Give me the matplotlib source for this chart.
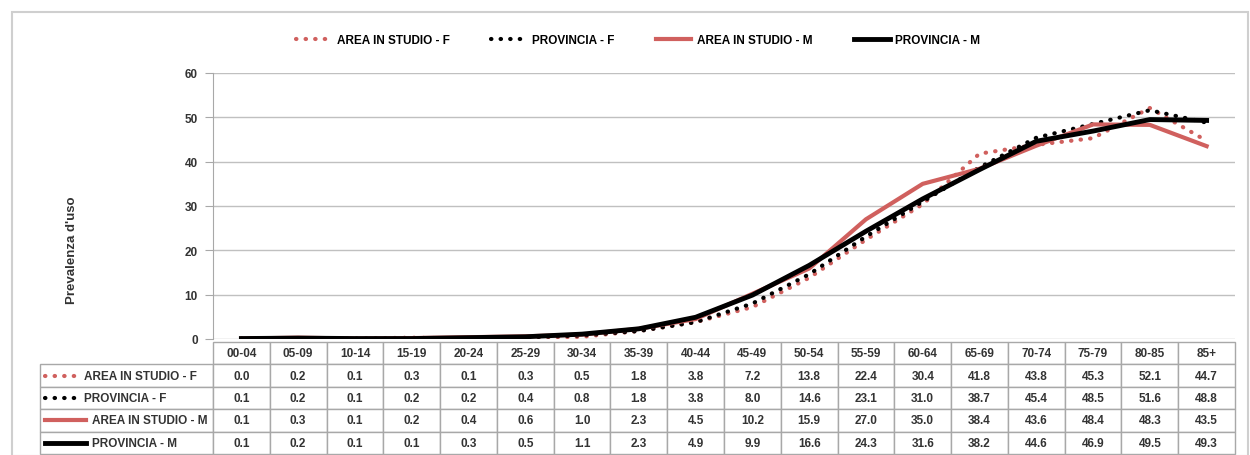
import matplotlib
matplotlib.use("Agg")
from matplotlib import pyplot as plt
from matplotlib.lines import Line2D
from matplotlib.patches import Rectangle

ages = ['00-04', '05-09', '10-14', '15-19', '20-24', '25-29', '30-34', '35-39', '40-44',
        '45-49', '50-54', '55-59', '60-64', '65-69', '70-74', '75-79', '80-85', '85+']
area_f = [0.0, 0.2, 0.1, 0.3, 0.1, 0.3, 0.5, 1.8, 3.8, 7.2, 13.8, 22.4, 30.4, 41.8, 43.8, 45.3, 52.1, 44.7]
prov_f = [0.1, 0.2, 0.1, 0.2, 0.2, 0.4, 0.8, 1.8, 3.8, 8.0, 14.6, 23.1, 31.0, 38.7, 45.4, 48.5, 51.6, 48.8]
area_m = [0.1, 0.3, 0.1, 0.2, 0.4, 0.6, 1.0, 2.3, 4.5, 10.2, 15.9, 27.0, 35.0, 38.4, 43.6, 48.4, 48.3, 43.5]
prov_m = [0.1, 0.2, 0.1, 0.1, 0.3, 0.5, 1.1, 2.3, 4.9, 9.9, 16.6, 24.3, 31.6, 38.2, 44.6, 46.9, 49.5, 49.3]
names = ['AREA IN STUDIO - F', 'PROVINCIA - F', 'AREA IN STUDIO - M', 'PROVINCIA - M']

pink = '#D0605E'
dot = (0, (0.1, 2.2))
styles = [
    dict(color=pink, lw=3, ls=dot, dash_capstyle='round'),
    dict(color='black', lw=3, ls=dot, dash_capstyle='round'),
    dict(color=pink, lw=3, ls='-'),
    dict(color='black', lw=3.5, ls='-'),
]

plt.rcParams['font.family'] = ['Liberation Sans Narrow', 'Liberation Sans', 'DejaVu Sans']
plt.rcParams['font.weight'] = 'bold'
txt = '#333333'
fs = 8.5

W, H = 1250, 456
fig = plt.figure(figsize=(12.5, 4.56), dpi=100)
fx = lambda px: px / W
fy = lambda py: 1 - py / H

# outer frame
fig.patches.append(Rectangle((fx(12), fy(457)), fx(1248) - fx(12), fy(13) - fy(457),
                             transform=fig.transFigure, fill=False, ec='#cfcfcf', lw=1.5))

left, right, top, bottom = 213, 1235, 74, 340
ax = fig.add_axes([fx(left), fy(bottom), fx(right) - fx(left), fy(top) - fy(bottom)])

x = list(range(len(ages)))
series = [area_f, prov_f, area_m, prov_m]
handles = []
for vals, st, name in zip(series, styles, names):
    h, = ax.plot(x, vals, label=name, **st)
    handles.append(h)

ax.set_xlim(-0.5, len(ages) - 0.5)
ax.set_ylim(0, 60)
ax.set_yticks(range(0, 61, 10))
ax.set_xticks([])
ax.yaxis.grid(True, color='#c0c0c0', lw=1)
ax.set_axisbelow(True)
for s in ['top', 'right', 'bottom']:
    ax.spines[s].set_visible(False)
ax.spines['left'].set_color('#a8a8a8')
ax.tick_params(axis='y', colors='#a8a8a8', labelcolor=txt, labelsize=fs, length=6, pad=5)

fig.text(fx(72), fy(250), "Prevalenza d'uso", rotation=90, ha='center', va='center',
         fontsize=9.5, color=txt)

fig.legend(handles=handles, loc='center', bbox_to_anchor=(fx(638), fy(41)), ncol=4,
           frameon=False, fontsize=fs, handlelength=3, columnspacing=3.5, handletextpad=0.5)

# data table below the plot
tleft, ttop, tbot = 40, 343, 455
aw = right - left
ah = bottom - top
cells = [[''] + ages]
for vals in series:
    cells.append([''] + ['%.1f' % v for v in vals])
colw = [173] + [(right - left) / len(ages)] * len(ages)
tab = ax.table(cellText=cells, colWidths=colw, cellLoc='center',
               bbox=[(tleft - left) / aw, -(tbot - bottom) / ah, (right - tleft) / aw, (tbot - ttop) / ah])
tab.auto_set_font_size(False)
tab.set_fontsize(fs)
for (r, c), cell in tab.get_celld().items():
    cell.set_edgecolor('#a8a8a8')
    cell.set_linewidth(1)
    cell.get_text().set_color(txt)
    cell.get_text().set_fontweight('bold')
tab[0, 0].visible_edges = 'open'

# row labels with line samples
row_h = (tbot - ttop) / 5
for i, (st, name) in enumerate(zip(styles, names)):
    yc = ttop + row_h * (i + 1.5)
    x1 = 78 if i < 2 else 86
    fig.add_artist(Line2D([fx(45), fx(x1)], [fy(yc), fy(yc)], transform=fig.transFigure, **st))
    fig.text(fx(x1 + 6), fy(yc), name, ha='left', va='center', fontsize=fs, color=txt)

fig.savefig('out.png', dpi=100)
